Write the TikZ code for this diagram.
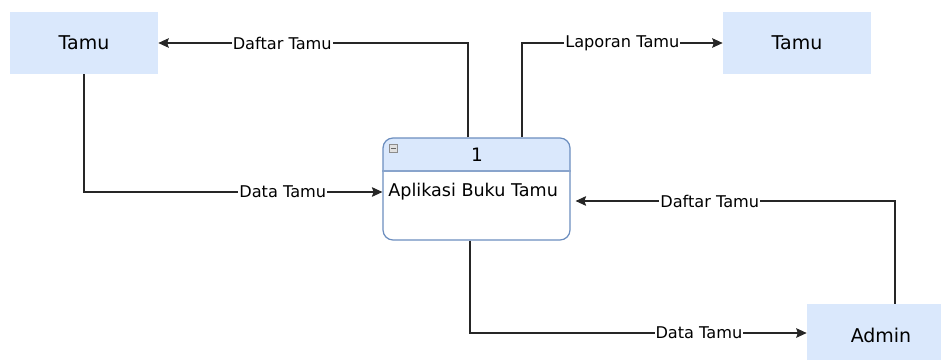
\documentclass[tikz,border=0pt]{standalone}
\usepackage{fontspec}
\setmainfont{DejaVu Sans}
\usetikzlibrary{arrows.meta}

\definecolor{boxblue}{HTML}{DAE8FC}
\definecolor{procline}{HTML}{6C8EBF}

\begin{document}
\begin{tikzpicture}[x=0.02cm, y=-0.02cm,
    entity/.style={fill=boxblue, minimum width=2.96cm, minimum height=1.24cm, inner sep=0pt, font=\fontsize{10.8}{12}\selectfont},
    flow/.style={draw=black!85, line width=0.6pt, -{Stealth[length=6pt, width=5.5pt, inset=1pt]}},
    lbl/.style={fill=white, inner sep=0.5pt, font=\fontsize{9.2}{10}\selectfont}]
  \useasboundingbox (0,0) rectangle (941,359);
  \clip (0,0) rectangle (941,359);

  \node[entity] (tamuA) at (84,43) {Tamu};
  \node[entity] (tamuB) at (797,43) {Tamu};
  \node[entity] (admin) at (881,335) {Admin};

  % process 1 with its header
  \begin{scope}
    \clip (380,135) rectangle (573,171);
    \fill[boxblue, rounded corners=0.2cm] (383,138) rectangle (570,240);
  \end{scope}
  \node[draw=procline, line width=0.7pt, rounded corners=0.2cm, minimum width=3.74cm, minimum height=2.04cm] (proc) at (476.5,189) {};
  \draw[procline!80, line width=0.6pt] (proc.west |- 0,171) -- (proc.east |- 0,171);
  \draw[black!45, fill=black!12, line width=0.4pt] (389.5,144.5) rectangle (397.5,152);
  \draw[black!60, line width=0.6pt] (391,148.2) -- (396,148.2);
  \node[font=\fontsize{10.5}{12}\selectfont] (num) at (477,155) {1};
  \node[anchor=west, inner sep=0pt, font=\fontsize{10}{12}\selectfont] (title) at (388,192) {Aplikasi Buku Tamu};

  \draw[flow] ([xshift=-0.17cm]proc.north) |- node[lbl, pos=0.8] {Daftar Tamu} (tamuA.east);
  \draw[flow] ([xshift=0.91cm]proc.north) |- node[lbl, pos=0.75] {Laporan Tamu} (tamuB.west);
  \draw[flow] (tamuA.south) |- node[lbl, pos=0.833] {Data Tamu} ([yshift=-0.06cm]proc.west);
  \draw[flow] ([xshift=0.28cm]admin.north) |- node[lbl, pos=0.79] {Daftar Tamu} ([yshift=-0.24cm, xshift=0.1cm]proc.east);
  \draw[flow] ([xshift=-0.13cm]proc.south) |- node[lbl, pos=0.84] {Data Tamu} ([yshift=0.04cm]admin.west);
\end{tikzpicture}
\end{document}
